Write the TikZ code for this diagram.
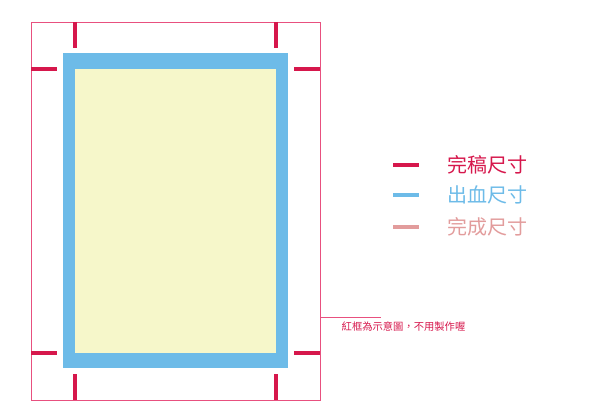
\documentclass[tikz,border=0pt]{standalone}
\usepackage{fontspec}
\newfontfamily\cjk{Noto Sans CJK TC}
\definecolor{cropred}{HTML}{D6174C}
\definecolor{framered}{HTML}{E8507F}
\definecolor{bleedblue}{HTML}{6DBBE8}
\definecolor{trimyellow}{HTML}{F6F7CA}
\definecolor{trimpink}{HTML}{E29C9C}
\begin{document}
\begin{tikzpicture}[x=1pt,y=-1pt,
  cropmark/.style={draw=cropred,line width=3.8pt},
  legline/.style={line width=4pt},
  legtext/.style={font=\cjk\fontsize{20}{20}\selectfont,anchor=west,inner sep=0pt}]
\useasboundingbox (0,0) rectangle (595,420);
% outer frame
\draw[framered,line width=0.9pt] (31,22) rectangle (320,400);
% bleed and trim
\fill[bleedblue] (63,53) rectangle (288,368);
\fill[trimyellow] (75,69) rectangle (276,353);
% crop marks
\draw[cropmark] (75,22) -- (75,48);
\draw[cropmark] (276,22) -- (276,48);
\draw[cropmark] (75,374) -- (75,400);
\draw[cropmark] (276,374) -- (276,400);
\draw[cropmark] (31,69) -- (57,69);
\draw[cropmark] (294,69) -- (320,69);
\draw[cropmark] (31,353) -- (57,353);
\draw[cropmark] (294,353) -- (320,353);
% legend
\coordinate (l1a) at (393,165); \coordinate (l1b) at (419,165);
\coordinate (l2a) at (393,195); \coordinate (l2b) at (419,195);
\coordinate (l3a) at (393,227); \coordinate (l3b) at (419,227);
\draw[legline,cropred] (l1a) -- (l1b);
\draw[legline,bleedblue] (l2a) -- (l2b);
\draw[legline,trimpink] (l3a) -- (l3b);
\node[legtext,text=cropred] (t1) at (447,165) {完稿尺寸};
\node[legtext,text=bleedblue] (t2) at (447,194.5) {出血尺寸};
\node[legtext,text=trimpink] (t3) at (447,226.5) {完成尺寸};
% annotation
\coordinate (a1) at (320,317);
\coordinate (a2) at (381,317);
\draw[framered,line width=0.8pt] (a1) -- (a2);
\node[font=\cjk\fontsize{10.3}{10.5}\selectfont,text=cropred,anchor=west,inner sep=0pt] (note) at (341.5,327) {紅框為示意圖，不用製作喔};
\end{tikzpicture}
\end{document}
